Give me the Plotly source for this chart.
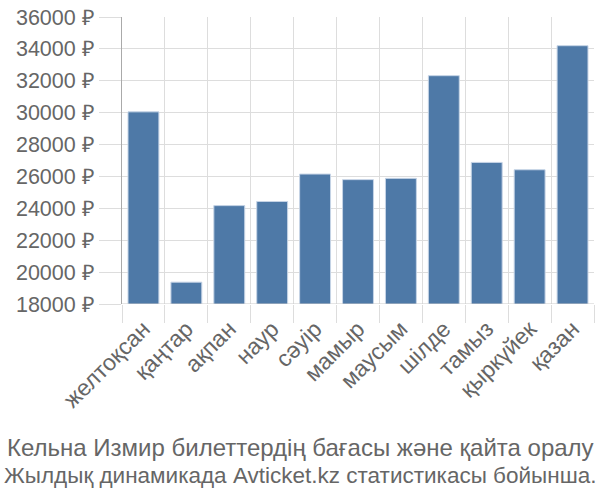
import plotly.graph_objects as go

months = ["желтоқсан", "қаңтар", "ақпан", "наур", "сәуір", "мамыр", "маусым",
          "шілде", "тамыз", "қыркүйек", "қазан"]
prices = [30050, 19370, 24170, 24430, 26150, 25800, 25880, 32320, 26880, 26420, 34200]
y_ticks = list(range(18000, 36001, 2000))
y_labels = [f"{v} ₽" for v in y_ticks]
title_lines = ["Кельна Измир билеттердің бағасы және қайта оралу",
               "Жылдық динамикада Avticket.kz статистикасы бойынша."]
title_sizes = [24, 22.5]

fig = go.Figure(go.Bar(
    x=months, y=prices,
    marker=dict(color="#4e79a7", line=dict(color="#c6d4e6", width=1)),
))

font = "Liberation Sans, Arial, sans-serif"
cx = (300 - 122) / 472
anns = []
for i, line in enumerate(title_lines):
    anns.append(dict(
        text=line, x=cx, y=0, xref="paper", yref="paper",
        xanchor="center", yanchor="middle", yshift=-(143 + 28 * i), showarrow=False,
        font=dict(size=title_sizes[i], color="#666666", family=font),
    ))

fig.update_layout(
    width=600, height=500,
    margin=dict(l=122, r=6, t=14, b=196),
    paper_bgcolor="white", plot_bgcolor="white",
    bargap=0.28,
    showlegend=False,
    font=dict(family=font, color="#666666", size=22),
    annotations=anns,
)
fig.update_xaxes(
    tickangle=-45, tickson="boundaries", ticks="outside", ticklen=18,
    tickcolor="#dddddd", showgrid=True, gridcolor="#dddddd", gridwidth=1,
    showline=False, tickfont=dict(size=23, color="#666666"),
    ticklabelstandoff=6,
)
fig.update_yaxes(
    range=[18000, 36000], tickvals=y_ticks, ticktext=y_labels,
    ticks="outside", ticklen=22, tickcolor="#dddddd",
    showgrid=True, gridcolor="#dddddd", gridwidth=1,
    showline=True, linecolor="#aaaaaa", linewidth=1,
    zeroline=False, tickfont=dict(size=21.5, color="#666666"),
)
fig.add_shape(type="line", xref="paper", yref="y", x0=0, x1=1, y0=18000, y1=18000,
              line=dict(color="#cccccc", width=1))
fig.write_html("out.html")
